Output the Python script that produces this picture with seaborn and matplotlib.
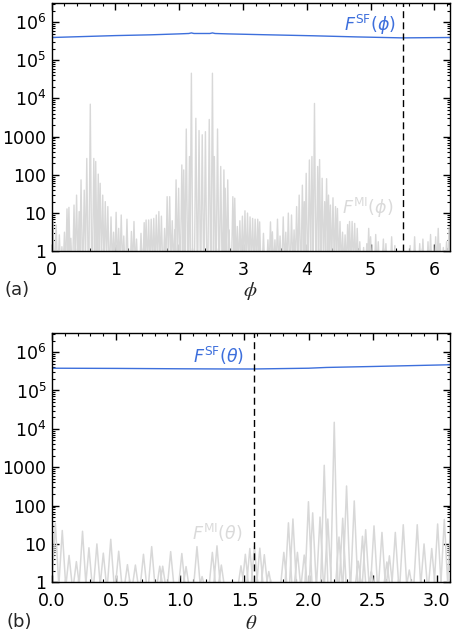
import numpy as np
import pandas as pd
import matplotlib
matplotlib.use("Agg")
import matplotlib.pyplot as plt
import seaborn as sns
from matplotlib.ticker import FixedLocator, FixedFormatter, LogLocator, MultipleLocator, NullFormatter

# ---------------- data ----------------
# panel (a): F^SF(phi) (blue) sample points, log10 of value
sf_phi_x = [0.0, 0.5, 1.0, 1.55, 2.0, 2.15, 2.19, 2.23, 2.48, 2.52, 2.56, 2.75, 3.27, 4.1, 4.79, 5.5, 6.24]
sf_phi_log = [5.595, 5.62, 5.645, 5.665, 5.69, 5.70, 5.715, 5.70, 5.70, 5.715, 5.70, 5.69, 5.67, 5.64, 5.61, 5.585, 5.595]

# panel (a): F^MI(phi) spike positions and log10 of spike heights
mi_phi_x = [0.02, 0.07, 0.12, 0.16, 0.20, 0.24, 0.27, 0.30, 0.35, 0.39, 0.43, 0.46, 0.51, 0.55, 0.605,
            0.66, 0.69, 0.73, 0.76, 0.80, 0.84, 0.88, 0.93, 0.97, 1.01, 1.05, 1.09, 1.13, 1.18, 1.25,
            1.29, 1.33, 1.40, 1.45, 1.48, 1.52, 1.56, 1.60, 1.64, 1.68, 1.72, 1.77, 1.81, 1.85, 1.89,
            1.93, 1.95, 1.99, 2.04, 2.07, 2.11, 2.16, 2.19, 2.26, 2.31, 2.36, 2.41, 2.47, 2.52, 2.55,
            2.60, 2.65, 2.70, 2.72, 2.76, 2.78, 2.84, 2.87, 2.91, 2.95, 2.99, 3.03, 3.07, 3.11, 3.15,
            3.19, 3.23, 3.26, 3.32, 3.39, 3.43, 3.46, 3.50, 3.54, 3.58, 3.63, 3.67, 3.71, 3.76, 3.80,
            3.84, 3.88, 3.93, 3.96, 3.99, 4.04, 4.08, 4.12, 4.17, 4.20, 4.24, 4.28, 4.31, 4.34, 4.37,
            4.41, 4.45, 4.48, 4.52, 4.56, 4.60, 4.64, 4.67, 4.71, 4.75, 4.79, 4.83, 4.89, 4.94, 4.97,
            5.00, 5.08, 5.12, 5.20, 5.24, 5.33, 5.38, 5.62, 5.69, 5.77, 5.82, 5.90, 5.94, 6.02, 6.06,
            6.09, 6.14, 6.19, 6.23, 6.27]
mi_phi_log = [0.79, 0.69, 0.43, 0.12, 0.50, 1.11, 1.15, 0.34, 1.21, 1.47, 1.04, 1.87, 1.60, 2.43, 3.85,
              2.43, 2.35, 2.02, 1.78, 1.47, 1.30, 1.17, 0.90, 0.50, 1.02, 0.60, 0.95, 0.40, 0.84, 0.52,
              0.78, 0.32, 0.47, 0.75, 0.82, 0.82, 0.84, 0.86, 0.95, 1.04, 0.92, 0.60, 1.43, 1.43, 0.80,
              0.56, 1.87, 1.65, 2.26, 2.13, 3.20, 2.48, 4.66, 3.48, 3.16, 3.05, 3.13, 3.45, 4.66, 2.48,
              3.20, 2.22, 2.13, 1.65, 1.87, 0.56, 1.43, 1.39, 0.65, 0.80, 0.92, 1.06, 1.00, 0.90, 0.86,
              0.84, 0.84, 0.77, 0.47, 0.30, 0.77, 0.51, 0.30, 0.84, 0.40, 0.90, 0.50, 1.00, 0.95, 0.56,
              1.17, 1.47, 1.73, 1.30, 2.04, 2.39, 2.48, 3.87, 2.22, 2.40, 1.91, 1.30, 1.90, 1.47, 1.21,
              1.40, 1.17, 1.12, 0.78, 0.50, 0.43, 0.70, 0.78, 0.78, 0.73, 0.60, 0.25, 0.10, 0.20, 0.60,
              0.38, 0.44, 0.25, 0.32, 0.20, 0.38, 0.15, 0.15, 0.38, 0.20, 0.32, 0.25, 0.44, 0.38, 0.60,
              0.20, 0.10, 0.25, 0.65, 0.78]

# panel (b): F^SF(theta) (blue)
sf_th_x = [0.0, 0.5, 1.0, 1.36, 1.57, 2.0, 2.14, 2.5, 3.1]
sf_th_log = [5.58, 5.575, 5.565, 5.56, 5.56, 5.58, 5.60, 5.625, 5.67]

# panel (b): F^MI(theta) lobe positions and log10 of lobe heights
mi_th_x = [0.026, 0.08, 0.133, 0.19, 0.238, 0.288, 0.35, 0.40, 0.458, 0.52, 0.588, 0.65, 0.713, 0.777,
           0.84, 0.863, 0.925, 1.012, 1.045, 1.13, 1.17, 1.25, 1.286, 1.32, 1.473, 1.507, 1.542, 1.578,
           1.62, 1.655, 1.69, 1.807, 1.843, 1.878, 1.913, 1.966, 1.999, 2.032, 2.089, 2.122, 2.15, 2.20,
           2.237, 2.266, 2.296, 2.356, 2.387, 2.42, 2.445, 2.49, 2.51, 2.572, 2.61, 2.63, 2.676, 2.738,
           2.785, 2.847, 2.90, 2.96, 3.006, 3.058, 3.11]
mi_th_log = [1.54, 1.35, 0.70, 0.54, 1.33, 0.90, 1.00, 0.76, 1.12, 0.81, 0.46, 0.45, 0.73, 0.93,
             0.42, 0.42, 0.80, 0.75, 0.41, 0.93, 0.15, 0.78, 0.95, 0.45, 0.43, 0.73, 0.88, 0.93,
             0.89, 0.72, 0.28, 0.78, 1.55, 1.65, 0.78, 0.71, 2.10, 1.81, 1.70, 3.05, 1.65, 4.17,
             1.18, 1.67, 2.51, 2.12, 0.55, 1.20, 1.37, 0.28, 1.47, 1.30, 0.53, 0.69, 1.30, 1.50,
             0.32, 1.50, 1.00, 0.88, 1.52, 1.64, 1.67]

y_tick_vals = [1, 10, 100, 1000, 1e4, 1e5, 1e6]
y_tick_labels = ["1", "10", "100", "1000", r"$10^4$", r"$10^5$", r"$10^6$"]
phi_ticks = [0, 1, 2, 3, 4, 5, 6]
phi_tick_labels = ["0", "1", "2", "3", "4", "5", "6"]
th_ticks = [0.0, 0.5, 1.0, 1.5, 2.0, 2.5, 3.0]
th_tick_labels = ["0.0", "0.5", "1.0", "1.5", "2.0", "2.5", "3.0"]
phi_marker = 5.5
th_marker = 1.5708

# ---------------- style ----------------
sns.set_theme(style="ticks")
plt.rcParams["font.family"] = ["DejaVu Sans"]
plt.rcParams["mathtext.fontset"] = "dejavusans"

BLUE = "#3d6fdc"
GRAY = "#d8d8d8"
LABEL_GRAY = "#dadada"


def lobes(xs, logs, half, floor):
    px, py = [], []
    for x, l in zip(xs, logs):
        px += [x - half, x, x + half]
        py += [floor, 10 ** l, floor]
    return pd.DataFrame({"x": px, "y": py})


fig = plt.figure(figsize=(4.54, 6.40), dpi=100)
ax_a = fig.add_axes([51.7 / 454, 1 - 251.3 / 640, 398 / 454, 248 / 640])
ax_b = fig.add_axes([52.0 / 454, 1 - 582.3 / 640, 397.7 / 454, 249 / 640])

# panel (a)
df_mi_a = lobes(mi_phi_x, mi_phi_log, 0.022, 0.3)
sns.lineplot(data=df_mi_a, x="x", y="y", sort=False, estimator=None, ax=ax_a,
             color=GRAY, linewidth=1.0)
df_sf_a = pd.DataFrame({"x": sf_phi_x, "y": [10 ** v for v in sf_phi_log]})
sns.lineplot(data=df_sf_a, x="x", y="y", sort=False, estimator=None, ax=ax_a,
             color=BLUE, linewidth=1.0)
ax_a.axvline(phi_marker, color="black", linewidth=1.0, dashes=(5, 3))
ax_a.set_xlim(0, 6.24)

# panel (b)
df_mi_b = lobes(mi_th_x, mi_th_log, 0.030, 0.55)
sns.lineplot(data=df_mi_b, x="x", y="y", sort=False, estimator=None, ax=ax_b,
             color=GRAY, linewidth=1.1)
df_sf_b = pd.DataFrame({"x": sf_th_x, "y": [10 ** v for v in sf_th_log]})
sns.lineplot(data=df_sf_b, x="x", y="y", sort=False, estimator=None, ax=ax_b,
             color=BLUE, linewidth=1.0)
ax_b.axvline(th_marker, color="black", linewidth=1.0, dashes=(5, 3))
ax_b.set_xlim(0, 3.10)

for ax, ticks, labels, minor in [(ax_a, phi_ticks, phi_tick_labels, 0.2),
                                  (ax_b, th_ticks, th_tick_labels, 0.1)]:
    ax.set_yscale("log")
    ax.set_ylim(1, 10 ** 6.49)
    ax.yaxis.set_major_locator(FixedLocator(y_tick_vals))
    ax.yaxis.set_major_formatter(FixedFormatter(y_tick_labels))
    ax.yaxis.set_minor_locator(LogLocator(base=10, subs=np.arange(2, 10), numticks=20))
    ax.yaxis.set_minor_formatter(NullFormatter())
    ax.xaxis.set_major_locator(FixedLocator(ticks))
    ax.xaxis.set_major_formatter(FixedFormatter(labels))
    ax.xaxis.set_minor_locator(MultipleLocator(minor))
    ax.tick_params(which="both", direction="in", top=True, right=True, colors="black")
    ax.tick_params(which="major", length=5, width=1.0, labelsize=12.5)
    ax.tick_params(which="minor", length=2.5, width=0.8)
    ax.tick_params(axis="x", which="major", pad=7)
    ax.tick_params(axis="y", which="major", pad=4)
    for s in ax.spines.values():
        s.set_color("black")
        s.set_linewidth(1.0)
    ax.set_ylabel("")
    ax.grid(False)

ax_a.set_xlabel(r"$\phi$", fontsize=15, math_fontfamily="stix", labelpad=1)
ax_b.set_xlabel(r"$\theta$", fontsize=15, math_fontfamily="stix", labelpad=2)

# curve labels
ax_a.text(5.39, 10 ** 5.92, r"$F^{\mathrm{SF}}(\phi)$", color=BLUE, fontsize=12.5,
          ha="right", va="center")
ax_a.text(5.36, 10 ** 1.13, r"$F^{\mathrm{MI}}(\phi)$", color=LABEL_GRAY, fontsize=12.5,
          ha="right", va="center")
ax_b.text(1.494, 10 ** 5.89, r"$F^{\mathrm{SF}}(\theta)$", color=BLUE, fontsize=12.5,
          ha="right", va="center")
ax_b.text(1.486, 10 ** 1.28, r"$F^{\mathrm{MI}}(\theta)$", color=LABEL_GRAY, fontsize=12.5,
          ha="right", va="center")

fig.text(4 / 454, 1 - 290 / 640, "(a)", fontsize=13, ha="left", va="center")
fig.text(6 / 454, 1 - 622 / 640, "(b)", fontsize=13, ha="left", va="center")

fig.savefig("out.png", dpi=100)
